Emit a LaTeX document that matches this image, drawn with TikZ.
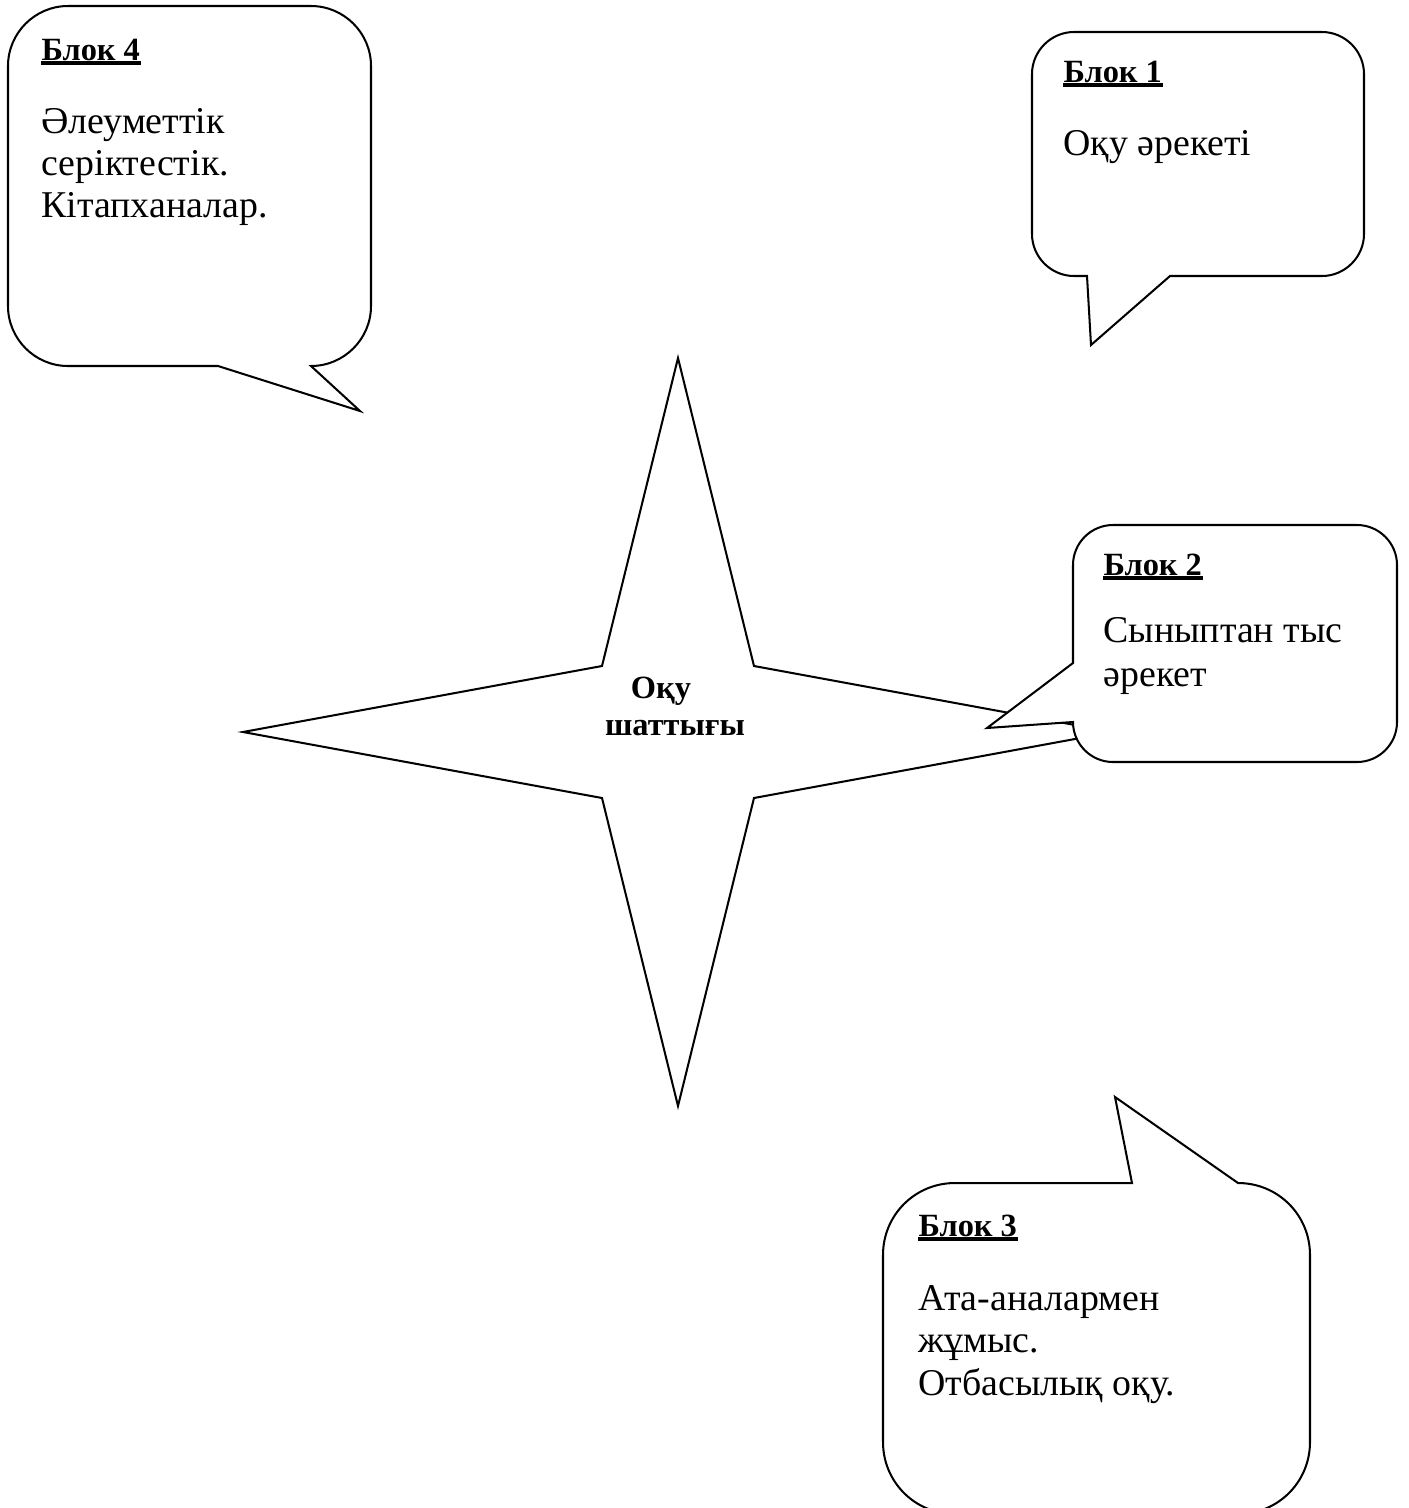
\documentclass[tikz,border=0pt]{standalone}
\usepackage{fontspec}
\setmainfont{Liberation Serif}
\begin{document}
\begin{tikzpicture}[x=0.37pt,y=-0.37pt,
  shape line/.style={draw=black,line width=0.75pt,fill=white,line join=miter},
  bodytxt/.style={inner sep=0pt,anchor=base west,font=\fontsize{14}{16}\selectfont},
  headtxt/.style={inner sep=0pt,anchor=base west,font=\fontsize{12}{14}\selectfont\bfseries},
  centertxt/.style={inner sep=0pt,anchor=base,font=\fontsize{12}{14}\selectfont\bfseries},
  uline/.style={line width=1.4pt}]
\useasboundingbox (0,0) rectangle (1408,1508);
\clip (0,0) rectangle (1408,1508);
% star
\draw[shape line] (678,358) -- (754,666) -- (1113,732) -- (754,798) -- (678,1106)
  -- (602,798) -- (243,732) -- (602,666) -- cycle;
\node[centertxt] (c1) at (661,698) {Оқу};
\node[centertxt] (c2) at (675,735) {шаттығы};
% Block 4
\draw[shape line] (68,6) -- (311,6) .. controls (344,6) and (371,33) .. (371,66)
  -- (371,306) .. controls (371,339) and (344,366) .. (311,366)
  -- (360,411) -- (218,366) -- (68,366) .. controls (35,366) and (8,339) .. (8,306)
  -- (8,66) .. controls (8,33) and (35,6) .. (68,6) -- cycle;
\node[headtxt] (h4) at (41,60) {Блок 4};
\draw[uline] ([yshift=-1.2pt]h4.base west) -- ([yshift=-1.2pt]h4.base east);
\node[bodytxt] (b4a) at (41,133) {Әлеуметтік};
\node[bodytxt] (b4b) at (41,175) {серіктестік.};
\node[bodytxt] (b4c) at (41,217) {Кітапханалар.};
% Block 1
\draw[shape line] (1074,32) -- (1322,32) .. controls (1345,32) and (1364,51) .. (1364,74)
  -- (1364,234) .. controls (1364,257) and (1345,276) .. (1322,276)
  -- (1170,276) -- (1091,345) -- (1087,276) -- (1074,276)
  .. controls (1051,276) and (1032,257) .. (1032,234)
  -- (1032,74) .. controls (1032,51) and (1051,32) .. (1074,32) -- cycle;
\node[headtxt] (h1) at (1063,82) {Блок 1};
\draw[uline] ([yshift=-1.2pt]h1.base west) -- ([yshift=-1.2pt]h1.base east);
\node[bodytxt] (b1a) at (1063,155) {Оқу әрекеті};
% Block 2
\draw[shape line] (1113,525) -- (1357,525) .. controls (1379,525) and (1397,543) .. (1397,565)
  -- (1397,722) .. controls (1397,744) and (1379,762) .. (1357,762)
  -- (1113,762) .. controls (1091,762) and (1073,744) .. (1073,722)
  -- (987,728) -- (1073,663)
  -- (1073,565) .. controls (1073,543) and (1091,525) .. (1113,525) -- cycle;
\node[headtxt] (h2) at (1103,575) {Блок 2};
\draw[uline] ([yshift=-1.2pt]h2.base west) -- ([yshift=-1.2pt]h2.base east);
\node[bodytxt] (b2a) at (1103,642) {Сыныптан тыс};
\node[bodytxt] (b2b) at (1103,686) {әрекет};
% Block 3
\draw[shape line] (955,1183) -- (1132,1183) -- (1115,1097) -- (1238,1183)
  .. controls (1278,1183) and (1310,1215) .. (1310,1255)
  -- (1310,1442) .. controls (1310,1482) and (1278,1514) .. (1238,1514)
  -- (955,1514) .. controls (915,1514) and (883,1482) .. (883,1442)
  -- (883,1255) .. controls (883,1215) and (915,1183) .. (955,1183) -- cycle;
\node[headtxt] (h3) at (918,1236) {Блок 3};
\draw[uline] ([yshift=-1.2pt]h3.base west) -- ([yshift=-1.2pt]h3.base east);
\node[bodytxt] (b3a) at (918,1310) {Ата-аналармен};
\node[bodytxt] (b3b) at (918,1352) {жұмыс.};
\node[bodytxt] (b3c) at (918,1395) {Отбасылық оқу.};
\end{tikzpicture}
\end{document}
